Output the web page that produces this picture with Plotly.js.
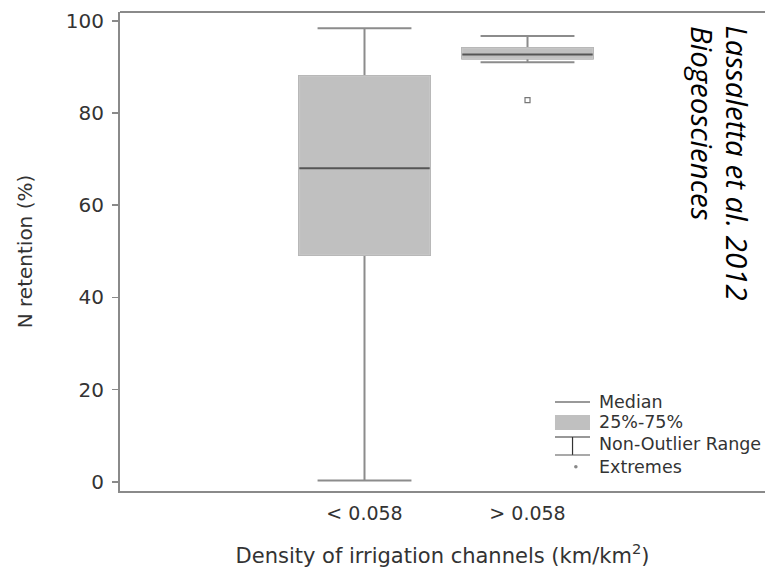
<!DOCTYPE html>
<html>
<head>
<meta charset="utf-8">
<script src="https://cdn.plot.ly/plotly-3.0.1.min.js"></script>
<style>html,body{margin:0;padding:0;background:#fff;}#chart{width:766px;height:568px;}</style>
</head>
<body>
<div id="chart"></div>
<script>
// Data
const categories = ["< 0.058", "> 0.058"];
const positions = [0, 1];
const lowerWhisker = [0.3, 91.0];
const q1 = [49.2, 91.8];
const median = [68.0, 92.7];
const q3 = [88.0, 94.1];
const upperWhisker = [98.4, 96.7];
const extremesX = [1];
const extremesY = [82.8];
const yTicks = [0, 20, 40, 60, 80, 100];

const BOXW = 0.8;
const font = "DejaVu Sans, Liberation Sans, Arial, sans-serif";
const txt = "#333";

// whiskers + box (outer)
const whiskTrace = {
  type: "box", x: positions, q1: q1, median: median, q3: q3,
  lowerfence: lowerWhisker, upperfence: upperWhisker,
  width: BOXW, whiskerwidth: 0.72, boxpoints: false,
  fillcolor: "#c0c0c0", line: {color: "#8c8c8c", width: 2},
  showlegend: false, hoverinfo: "skip"
};
// box body overlay with light outline
const bodyTrace = {
  type: "box", x: positions, q1: q1, median: median, q3: q3,
  lowerfence: q1, upperfence: q3,
  width: BOXW, whiskerwidth: 0, boxpoints: false,
  fillcolor: "#c0c0c0", line: {color: "#c6c6c6", width: 1.5},
  showlegend: false, hoverinfo: "skip"
};
// median lines
const mx = [], my = [];
positions.forEach((p, i) => { mx.push(p - BOXW/2, p + BOXW/2, null); my.push(median[i], median[i], null); });
const medTrace = {
  type: "scatter", mode: "lines", x: mx, y: my,
  line: {color: "#555", width: 2}, showlegend: false, hoverinfo: "skip"
};
const extTrace = {
  type: "scatter", mode: "markers", x: extremesX, y: extremesY,
  marker: {symbol: "square-open", size: 5, color: "#777", line: {width: 1.2, color: "#777"}},
  showlegend: false, hoverinfo: "skip"
};

// legend geometry in paper coordinates
const L0 = 0.6744, L1 = 0.7287, LT = 0.7395;
const shapes = [
  {type: "line", xref: "paper", yref: "paper", x0: 0, x1: 1, y0: 1, y1: 1, line: {color: "#8a8a8a", width: 2}},
  {type: "line", xref: "paper", yref: "paper", x0: L0, x1: L1, y0: 0.1858, y1: 0.1858, line: {color: "#777", width: 1.5}},
  {type: "rect", xref: "paper", yref: "paper", x0: L0, x1: L1, y0: 0.1273, y1: 0.1587, fillcolor: "#c0c0c0", line: {width: 0}},
  {type: "line", xref: "paper", yref: "paper", x0: L0, x1: L1, y0: 0.1127, y1: 0.1127, line: {color: "#333", width: 1.2}},
  {type: "line", xref: "paper", yref: "paper", x0: 0.7016, x1: 0.7016, y0: 0.1127, y1: 0.0752, line: {color: "#333", width: 1.2}},
  {type: "line", xref: "paper", yref: "paper", x0: L0, x1: L1, y0: 0.0752, y1: 0.0752, line: {color: "#555", width: 1.2}},
  {type: "circle", xref: "paper", yref: "paper", x0: 0.7040, x1: 0.7095, y0: 0.0470, y1: 0.0545, fillcolor: "#888", line: {width: 0}}
];
const legendLabels = ["Median", "25%-75%", "Non-Outlier Range", "Extremes"];
const legendY = [0.1858, 0.1440, 0.0980, 0.0501];
const annotations = legendLabels.map((t, i) => ({
  xref: "paper", yref: "paper", x: LT, y: legendY[i], xanchor: "left", yanchor: "middle",
  text: t, showarrow: false, font: {family: font, size: 17.5, color: txt}
}));
annotations.push(
  {xref: "paper", yref: "paper", x: 0.9580, y: 0.975, xanchor: "center", yanchor: "top",
   text: "Lassaletta et al. 2012", textangle: 90, showarrow: false,
   font: {family: "Open Sans, Noto Sans, sans-serif", size: 29.5, color: "#000", style: "italic"}},
  {xref: "paper", yref: "paper", x: 0.903, y: 0.975, xanchor: "center", yanchor: "top",
   text: "Biogeosciences", textangle: 90, showarrow: false,
   font: {family: "Open Sans, Noto Sans, sans-serif", size: 29.5, color: "#000", style: "italic"}}
);

const layout = {
  width: 766, height: 568,
  margin: {l: 120, r: 1, t: 12, b: 77},
  paper_bgcolor: "#fff", plot_bgcolor: "#fff",
  showlegend: false, boxmode: "overlay",
  xaxis: {
    range: [-1.5, 2.457], tickvals: positions, ticktext: categories,
    showgrid: false, zeroline: false, showline: true, mirror: false,
    linecolor: "#8a8a8a", linewidth: 2, ticks: "", ticklabelstandoff: 4,
    tickfont: {family: font, size: 19, color: txt},
    title: {text: "Density of irrigation channels (km/km<sup>2</sup>)", standoff: 26,
            font: {family: font, size: 21, color: txt}}
  },
  yaxis: {
    range: [-2.0, 101.9], tickvals: yTicks,
    showgrid: false, zeroline: false, showline: true, mirror: false,
    linecolor: "#8a8a8a", linewidth: 2, ticks: "outside", ticklen: 6, tickcolor: "#8a8a8a", tickwidth: 1.5,
    ticklabelstandoff: 4,
    tickfont: {family: font, size: 20, color: txt},
    title: {text: "N retention (%)", standoff: 28, font: {family: font, size: 20, color: txt}}
  },
  shapes: shapes, annotations: annotations
};

Plotly.newPlot("chart", [whiskTrace, bodyTrace, medTrace, extTrace], layout, {staticPlot: true, displayModeBar: false});
</script>
</body>
</html>
